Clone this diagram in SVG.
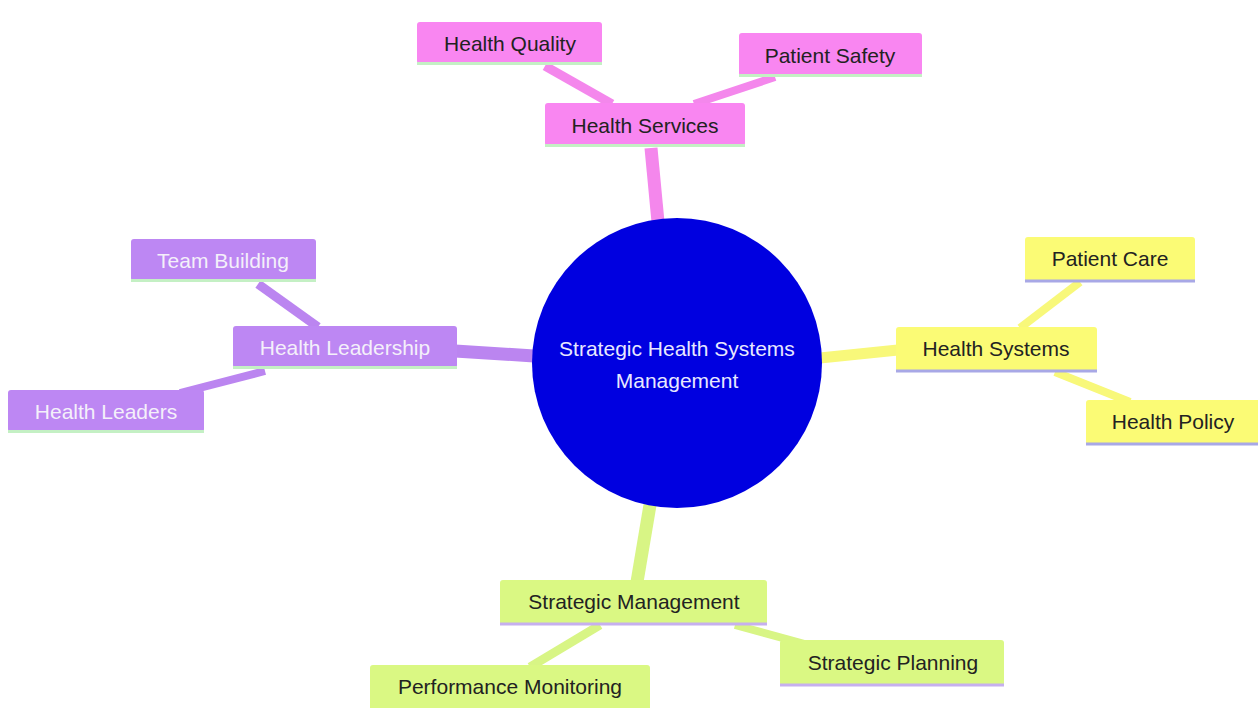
<svg xmlns="http://www.w3.org/2000/svg" width="1258" height="708" viewBox="0 0 1258 708">
<style>
text{font-family:"Liberation Sans",Arial,sans-serif;font-size:21px;text-anchor:middle;dominant-baseline:central}
.pk{fill:#f986f1}.pu{fill:#bd87f3}.ye{fill:#fbfb75}.gr{fill:#daf883}
.lp{stroke:#f487ec}.lu{stroke:#bb85f0}.ly{stroke:#f8f87a}.lg{stroke:#d8f585}
.con line{stroke-linecap:butt}
.dk{fill:#222}.wh{fill:#f4f0fa}
.bg{stroke:#c4f0c4;stroke-width:3}.bb{stroke:#a8a8e6;stroke-width:3}.bv{stroke:#c6b0ee;stroke-width:3}
</style>
<rect width="1258" height="708" fill="#ffffff"/>
<g class="con">
<line class="lp" x1="651" y1="148" x2="658" y2="222" stroke-width="13"/>
<line class="lp" x1="545" y1="66" x2="612" y2="104" stroke-width="9"/>
<line class="lp" x1="775" y1="77" x2="694" y2="104" stroke-width="8"/>
<line class="lu" x1="455" y1="351" x2="534" y2="356" stroke-width="13"/>
<line class="lu" x1="258" y1="284" x2="318" y2="327" stroke-width="9"/>
<line class="lu" x1="265" y1="371" x2="180" y2="393" stroke-width="8"/>
<line class="ly" x1="820" y1="358" x2="898" y2="350" stroke-width="11"/>
<line class="ly" x1="1080" y1="282" x2="1020" y2="328" stroke-width="8"/>
<line class="ly" x1="1055" y1="372" x2="1130" y2="402" stroke-width="8"/>
<line class="lg" x1="650" y1="505" x2="637" y2="582" stroke-width="13"/>
<line class="lg" x1="600" y1="625" x2="530" y2="667" stroke-width="9"/>
<line class="lg" x1="735" y1="625" x2="812" y2="646" stroke-width="8"/>
</g>
<g id="root">
<circle cx="677" cy="363" r="145" fill="#0000e0"/>
<text x="677" y="348" fill="#e8e8ff">Strategic Health Systems</text>
<text x="677" y="380" fill="#e8e8ff">Management</text>
</g>
<g id="health-services">
<rect class="pk" x="545" y="103" width="200" height="43" rx="3"/>
<line class="bg" x1="545" y1="145.5" x2="745" y2="145.5"/>
<text class="dk" x="645" y="125">Health Services</text>
</g>
<g id="health-quality">
<rect class="pk" x="417" y="22" width="185" height="42" rx="3"/>
<line class="bg" x1="417" y1="63.5" x2="602" y2="63.5"/>
<text class="dk" x="510" y="43">Health Quality</text>
</g>
<g id="patient-safety">
<rect class="pk" x="739" y="33" width="183" height="43" rx="3"/>
<line class="bg" x1="739" y1="75.5" x2="922" y2="75.5"/>
<text class="dk" x="830" y="55">Patient Safety</text>
</g>
<g id="health-leadership">
<rect class="pu" x="233" y="326" width="224" height="42" rx="3"/>
<line class="bg" x1="233" y1="367.5" x2="457" y2="367.5"/>
<text class="wh" x="345" y="347">Health Leadership</text>
</g>
<g id="team-building">
<rect class="pu" x="131" y="239" width="185" height="42" rx="3"/>
<line class="bg" x1="131" y1="280.5" x2="316" y2="280.5"/>
<text class="wh" x="223" y="260">Team Building</text>
</g>
<g id="health-leaders">
<rect class="pu" x="8" y="390" width="196" height="42" rx="3"/>
<line class="bg" x1="8" y1="431.5" x2="204" y2="431.5"/>
<text class="wh" x="106" y="411">Health Leaders</text>
</g>
<g id="health-systems">
<rect class="ye" x="896" y="327" width="201" height="45" rx="3"/>
<line class="bb" x1="896" y1="371" x2="1097" y2="371"/>
<text class="dk" x="996" y="348">Health Systems</text>
</g>
<g id="patient-care">
<rect class="ye" x="1025" y="237" width="170" height="45" rx="3"/>
<line class="bb" x1="1025" y1="281" x2="1195" y2="281"/>
<text class="dk" x="1110" y="258">Patient Care</text>
</g>
<g id="health-policy">
<rect class="ye" x="1086" y="400" width="174" height="45" rx="3"/>
<line class="bb" x1="1086" y1="444" x2="1258" y2="444"/>
<text class="dk" x="1173" y="421">Health Policy</text>
</g>
<g id="strategic-management">
<rect class="gr" x="500" y="580" width="267" height="45" rx="3"/>
<line class="bv" x1="500" y1="624" x2="767" y2="624"/>
<text class="dk" x="634" y="601">Strategic Management</text>
</g>
<g id="performance-monitoring">
<rect class="gr" x="370" y="665" width="280" height="45" rx="3"/>
<text class="dk" x="510" y="686">Performance Monitoring</text>
</g>
<g id="strategic-planning">
<rect class="gr" x="780" y="640" width="224" height="46" rx="3"/>
<line class="bv" x1="780" y1="685" x2="1004" y2="685"/>
<text class="dk" x="893" y="662">Strategic Planning</text>
</g>
</svg>
